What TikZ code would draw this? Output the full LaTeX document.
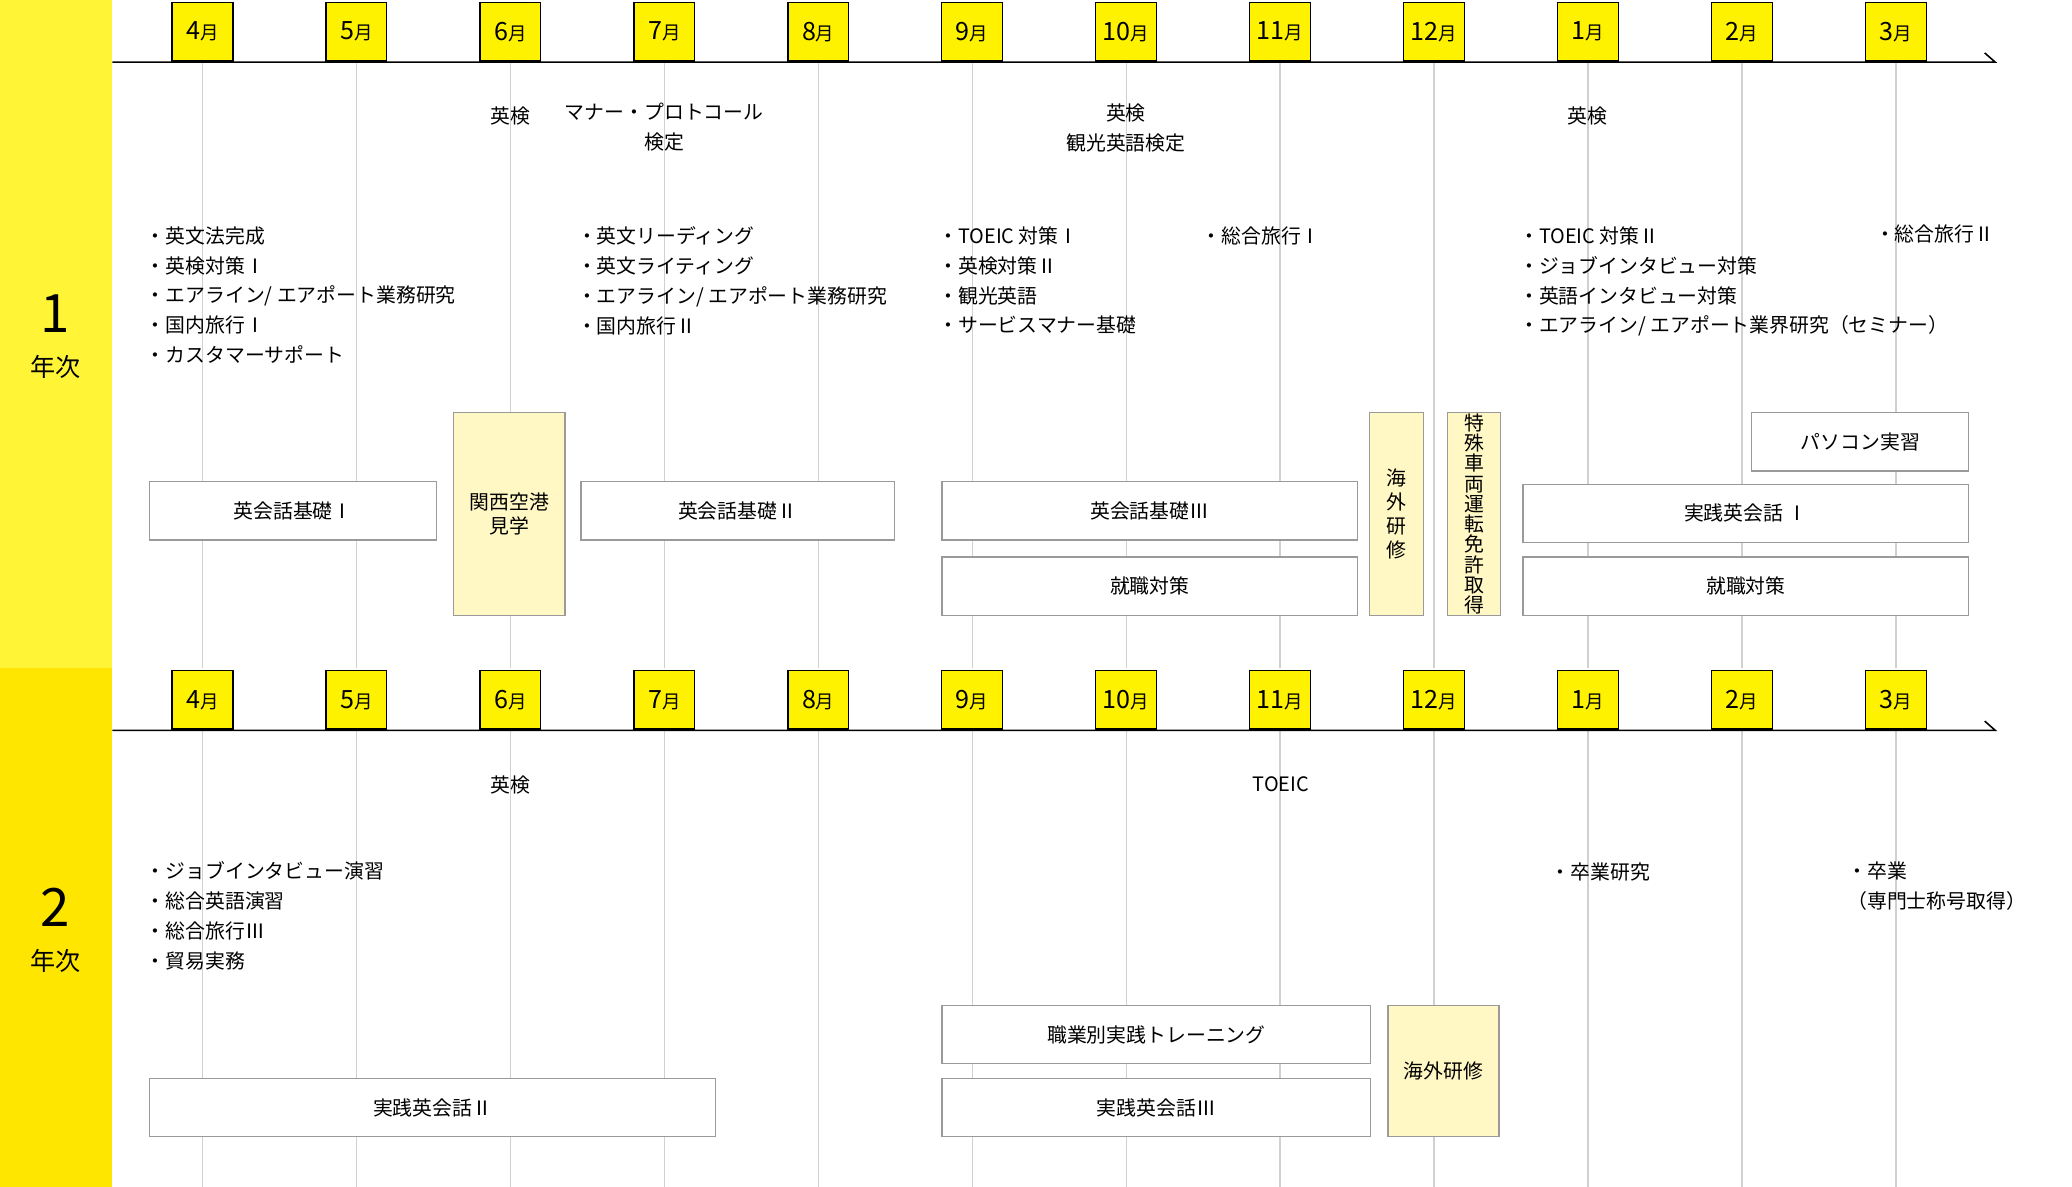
\documentclass[tikz,border=0pt]{standalone}
\usepackage{fontspec}
\setmainfont{Noto Sans CJK JP}
\definecolor{yA}{HTML}{FFF436}
\definecolor{yB}{HTML}{FFE600}
\definecolor{mon}{HTML}{FFF200}
\definecolor{pale}{HTML}{FFF8C4}
\definecolor{bd}{HTML}{9A9A9A}
\definecolor{vl}{HTML}{D0D0D0}
\tikzset{
 month/.style={draw=black,fill=mon,line width=1pt,minimum width=46pt,minimum height=44pt,inner sep=0pt,font=\fontsize{19}{20}\selectfont},
 bx/.style={draw=bd,fill=white,line width=1pt,inner sep=0pt,font=\fontsize{15}{18}\selectfont},
 pbx/.style={bx,fill=pale,align=center},
 txt/.style={inner sep=0pt,font=\fontsize{15}{22.6}\selectfont,align=center},
 lst/.style={inner sep=0pt,anchor=north west,font=\fontsize{15}{22.6}\selectfont,align=left},
}
\begin{document}
\begin{tikzpicture}[x=1pt,y=-1pt]
\useasboundingbox (0,0) rectangle (1566,897);
\fill[white] (0,0) rectangle (1566,897);
\fill[yA] (0,0) rectangle (85,505);
\fill[yB] (0,505) rectangle (85,897);
\node[inner sep=0pt,font=\fontsize{40}{40}\selectfont] (y1) at (42,237) {1};
\node[inner sep=0pt,font=\fontsize{19}{20}\selectfont] (y1b) at (42,277) {年次};
\node[inner sep=0pt,font=\fontsize{40}{40}\selectfont] (y2) at (42,686) {2};
\node[inner sep=0pt,font=\fontsize{19}{20}\selectfont] (y2b) at (42,726) {年次};
% vertical lines and months
\foreach \m [count=\i] in {4,5,6,7,8,9,10,11,12,1,2,3}{
  \pgfmathsetmacro{\xx}{153+116.36*(\i-1)}
  \draw[vl,line width=1pt] (\xx,47) -- (\xx,505);
  \draw[vl,line width=1pt] (\xx,552) -- (\xx,897);
  \node[month] (ma\i) at (\xx,24) {\m{\fontsize{14}{14}\selectfont 月}};
  \node[month] (mb\i) at (\xx,529) {\m{\fontsize{14}{14}\selectfont 月}};
}
\coordinate (la) at (85,47); \coordinate (lae) at (1508,47); \coordinate (lat) at (1500,40);
\draw[line width=1.2pt] (la) -- (lae) -- (lat);
\coordinate (lb) at (85,552); \coordinate (lbe) at (1508,552); \coordinate (lbt) at (1500,545);
\draw[line width=1.2pt] (lb) -- (lbe) -- (lbt);
% top texts
\node[txt] (t1) at (386,88) {英検};
\node[txt,anchor=north] (t2) at (502,78) {マナー・プロトコール\\検定};
\node[txt,anchor=north] (t3) at (851,78) {英検\\観光英語検定};
\node[txt] (t4) at (1200,88) {英検};
\node[lst] (l1) at (110,171) {・英文法完成\\・英検対策Ⅰ\\・エアライン/ エアポート業務研究\\・国内旅行Ⅰ\\・カスタマーサポート};
\node[lst] (l2) at (436,171) {・英文リーディング\\・英文ライティング\\・エアライン/ エアポート業務研究\\・国内旅行Ⅱ};
\node[lst] (l3) at (709,171) {・TOEIC 対策Ⅰ\\・英検対策Ⅱ\\・観光英語\\・サービスマナー基礎};
\node[lst] (l4) at (908,171) {・総合旅行Ⅰ};
\node[lst] (l5) at (1148,171) {・TOEIC 対策Ⅱ\\・ジョブインタビュー対策\\・英語インタビュー対策\\・エアライン/ エアポート業界研究（セミナー）};
\node[lst] (l6) at (1417,170) {・総合旅行Ⅱ};
% top boxes
\node[bx,minimum width=217pt,minimum height=44pt] (b1) at (221.5,386) {英会話基礎Ⅰ};
\node[pbx,minimum width=84pt,minimum height=153pt] (b2) at (385,388.5) {関西空港\\見学};
\node[bx,minimum width=237pt,minimum height=44pt] (b3) at (557.5,386) {英会話基礎Ⅱ};
\node[bx,minimum width=314pt,minimum height=44pt] (b4) at (869,386) {英会話基礎Ⅲ};
\node[bx,minimum width=314pt,minimum height=44pt] (b5) at (869,443) {就職対策};
\node[pbx,minimum width=41pt,minimum height=153pt] (b6) at (1055.5,388.5) {海\\外\\研\\修};
\node[pbx,minimum width=40pt,minimum height=153pt,font=\fontsize{15}{15.3}\selectfont] (b7) at (1114,388.5) {特\\殊\\車\\両\\運\\転\\免\\許\\取\\得};
\node[bx,minimum width=164pt,minimum height=44pt] (b8) at (1406,334) {パソコン実習};
\node[bx,minimum width=337pt,minimum height=44pt] (b9) at (1319.5,388) {実践英会話 Ⅰ};
\node[bx,minimum width=337pt,minimum height=44pt] (b10) at (1319.5,443) {就職対策};
% bottom texts
\node[txt] (s1) at (386,593) {英検};
\node[txt] (s2) at (968,593) {TOEIC};
\node[lst] (m1) at (110,651) {・ジョブインタビュー演習\\・総合英語演習\\・総合旅行Ⅲ\\・貿易実務};
\node[lst] (m2) at (1172,652) {・卒業研究};
\node[lst] (m3) at (1396,651) {・卒業\\（専門士称号取得）};
% bottom boxes
\node[bx,minimum width=428pt,minimum height=44pt] (c1) at (327,837) {実践英会話Ⅱ};
\node[bx,minimum width=324pt,minimum height=44pt] (c2) at (874,782) {職業別実践トレーニング};
\node[bx,minimum width=324pt,minimum height=44pt] (c3) at (874,837) {実践英会話Ⅲ};
\node[pbx,minimum width=84pt,minimum height=99pt] (c4) at (1091,809.5) {海外研修};
\end{tikzpicture}
\end{document}
